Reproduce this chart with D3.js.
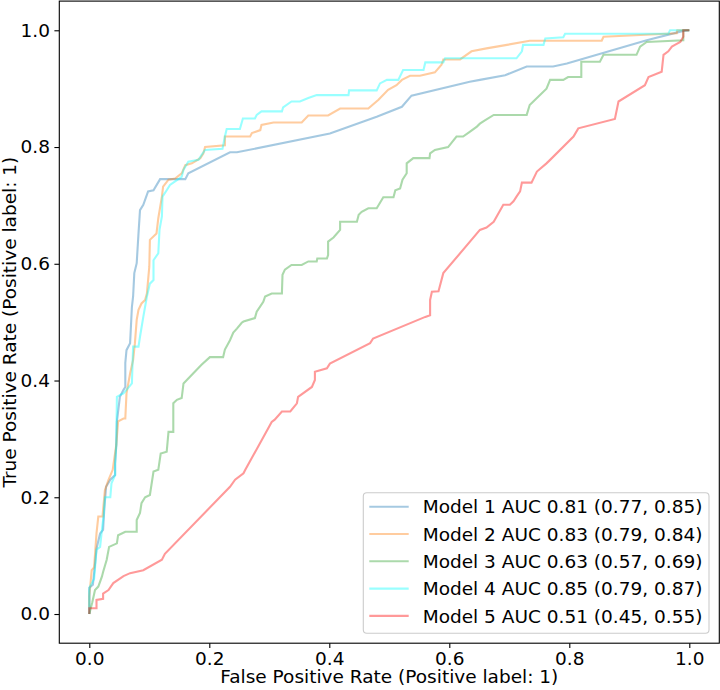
<!DOCTYPE html>
<html>
<head>
<meta charset="utf-8">
<script src="https://cdn.jsdelivr.net/npm/d3@7"></script>
<style>
  body { margin: 0; background: #fff; }
  svg { font-family: 'DejaVu Sans', sans-serif; }
</style>
</head>
<body>
<div id="chart"></div>
<script>
// ROC points [fpr, tpr]
const model1 = [[0,0],[0,0.045],[0.006,0.05],[0.01,0.09],[0.012,0.112],[0.018,0.138],[0.023,0.144],[0.025,0.18],[0.028,0.218],[0.035,0.23],[0.043,0.238],[0.043,0.258],[0.045,0.29],[0.046,0.33],[0.051,0.372],[0.057,0.384],[0.06,0.389],[0.06,0.43],[0.062,0.452],[0.068,0.464],[0.071,0.526],[0.073,0.544],[0.075,0.584],[0.079,0.601],[0.082,0.652],[0.0845,0.692],[0.09,0.701],[0.098,0.724],[0.107,0.726],[0.118,0.745],[0.16,0.745],[0.165,0.755],[0.2345,0.791],[0.246,0.791],[0.401,0.823],[0.479,0.852],[0.521,0.869],[0.537,0.888],[0.634,0.912],[0.651,0.915],[0.693,0.923],[0.729,0.938],[0.773,0.938],[0.796,0.943],[0.929,0.983],[0.99,0.999],[1,1]];

const model2 = [[0,0],[0,0.03],[0.004,0.075],[0.008,0.08],[0.012,0.138],[0.015,0.167],[0.022,0.167],[0.026,0.212],[0.032,0.23],[0.039,0.247],[0.045,0.29],[0.048,0.33],[0.057,0.335],[0.06,0.335],[0.062,0.378],[0.068,0.412],[0.073,0.435],[0.076,0.464],[0.079,0.504],[0.082,0.521],[0.087,0.532],[0.093,0.538],[0.096,0.549],[0.1,0.595],[0.101,0.641],[0.112,0.652],[0.115,0.678],[0.121,0.715],[0.123,0.732],[0.132,0.744],[0.143,0.746],[0.154,0.755],[0.16,0.769],[0.171,0.772],[0.185,0.781],[0.19,0.789],[0.193,0.8],[0.226,0.803],[0.226,0.818],[0.268,0.818],[0.271,0.824],[0.285,0.829],[0.287,0.838],[0.307,0.842],[0.354,0.842],[0.365,0.854],[0.398,0.854],[0.418,0.866],[0.465,0.866],[0.482,0.881],[0.498,0.898],[0.512,0.906],[0.521,0.915],[0.5345,0.922],[0.551,0.922],[0.576,0.928],[0.587,0.941],[0.59,0.95],[0.618,0.95],[0.637,0.964],[0.662,0.969],[0.696,0.975],[0.734,0.982],[0.854,0.982],[0.857,0.989],[0.979,0.995],[0.98,1],[1,1]];

const model3 = [[0,0],[0.005,0.02],[0.0095,0.041],[0.015,0.047],[0.021,0.064],[0.023,0.072],[0.029,0.093],[0.033,0.115],[0.046,0.121],[0.048,0.135],[0.06,0.141],[0.079,0.141],[0.079,0.161],[0.0845,0.173],[0.087,0.19],[0.093,0.2],[0.101,0.204],[0.107,0.244],[0.115,0.247],[0.119,0.275],[0.129,0.278],[0.132,0.312],[0.14,0.312],[0.14,0.361],[0.146,0.367],[0.154,0.37],[0.157,0.395],[0.171,0.41],[0.187,0.427],[0.201,0.44],[0.223,0.44],[0.226,0.453],[0.2345,0.469],[0.24,0.482],[0.246,0.489],[0.254,0.499],[0.257,0.501],[0.276,0.507],[0.279,0.518],[0.29,0.535],[0.293,0.544],[0.304,0.549],[0.321,0.549],[0.322,0.581],[0.326,0.59],[0.337,0.598],[0.354,0.598],[0.365,0.604],[0.379,0.604],[0.38,0.609],[0.396,0.609],[0.398,0.615],[0.398,0.638],[0.407,0.645],[0.418,0.658],[0.418,0.672],[0.446,0.672],[0.449,0.684],[0.454,0.689],[0.465,0.695],[0.479,0.695],[0.49,0.714],[0.507,0.714],[0.51,0.726],[0.518,0.729],[0.522,0.744],[0.529,0.755],[0.529,0.772],[0.54,0.781],[0.567,0.781],[0.568,0.789],[0.576,0.795],[0.598,0.8],[0.612,0.818],[0.623,0.818],[0.634,0.826],[0.646,0.835],[0.651,0.84],[0.66,0.846],[0.674,0.855],[0.729,0.855],[0.734,0.872],[0.74,0.878],[0.762,0.9],[0.768,0.915],[0.79,0.915],[0.798,0.92],[0.82,0.92],[0.82,0.946],[0.851,0.946],[0.857,0.958],[0.912,0.958],[0.918,0.972],[0.929,0.98],[0.99,0.983],[0.99,1],[1,1]];

const model4 = [[0,0],[0,0.04],[0.001,0.047],[0.008,0.06],[0.012,0.11],[0.018,0.115],[0.021,0.144],[0.024,0.17],[0.026,0.2],[0.035,0.2],[0.037,0.224],[0.043,0.238],[0.043,0.258],[0.045,0.29],[0.046,0.372],[0.051,0.375],[0.057,0.378],[0.062,0.384],[0.071,0.395],[0.073,0.458],[0.082,0.458],[0.0845,0.475],[0.09,0.509],[0.096,0.544],[0.101,0.566],[0.107,0.572],[0.107,0.606],[0.115,0.618],[0.117,0.658],[0.121,0.681],[0.122,0.715],[0.129,0.726],[0.1345,0.735],[0.143,0.741],[0.154,0.749],[0.157,0.761],[0.165,0.775],[0.182,0.778],[0.187,0.786],[0.193,0.795],[0.222,0.797],[0.226,0.818],[0.229,0.831],[0.251,0.831],[0.256,0.849],[0.276,0.849],[0.279,0.855],[0.287,0.861],[0.321,0.861],[0.323,0.868],[0.337,0.878],[0.351,0.878],[0.365,0.884],[0.379,0.889],[0.432,0.889],[0.433,0.897],[0.479,0.897],[0.4845,0.909],[0.496,0.915],[0.515,0.915],[0.523,0.932],[0.557,0.932],[0.56,0.945],[0.59,0.945],[0.593,0.952],[0.712,0.952],[0.721,0.964],[0.723,0.975],[0.757,0.975],[0.76,0.986],[0.79,0.988],[0.793,0.994],[0.965,0.994],[0.968,1],[1,1]];

const model5 = [[0,0],[0,0.01],[0.012,0.01],[0.012,0.024],[0.023,0.026],[0.023,0.035],[0.032,0.041],[0.04,0.053],[0.057,0.065],[0.068,0.07],[0.09,0.075],[0.121,0.093],[0.126,0.103],[0.2345,0.218],[0.243,0.23],[0.257,0.241],[0.26,0.247],[0.304,0.329],[0.309,0.333],[0.321,0.347],[0.335,0.347],[0.346,0.361],[0.348,0.372],[0.371,0.389],[0.376,0.401],[0.376,0.415],[0.396,0.421],[0.401,0.429],[0.468,0.464],[0.473,0.472],[0.56,0.509],[0.568,0.512],[0.568,0.538],[0.571,0.552],[0.582,0.553],[0.59,0.584],[0.651,0.658],[0.662,0.662],[0.674,0.672],[0.69,0.701],[0.701,0.701],[0.707,0.707],[0.712,0.715],[0.718,0.724],[0.721,0.739],[0.737,0.739],[0.746,0.758],[0.762,0.772],[0.768,0.778],[0.807,0.818],[0.815,0.832],[0.876,0.848],[0.882,0.878],[0.926,0.906],[0.932,0.92],[0.954,0.929],[0.957,0.958],[0.965,0.964],[0.971,0.972],[0.976,0.975],[0.985,0.98],[0.99,0.989],[0.99,1],[1,1]];

const labels = [
  'Model 1 AUC 0.81 (0.77, 0.85)',
  'Model 2 AUC 0.83 (0.79, 0.84)',
  'Model 3 AUC 0.63 (0.57, 0.69)',
  'Model 4 AUC 0.85 (0.79, 0.87)',
  'Model 5 AUC 0.51 (0.45, 0.55)'
];
const ticks = [0, 0.2, 0.4, 0.6, 0.8, 1.0];

const curves = [model1, model2, model3, model4, model5];
const colors = ['#1f77b4', '#ff7f0e', '#2ca02c', '#00ffff', '#ff0000'];
const ALPHA = 0.4;
const FONT = '18.5px';

const width = 720, height = 690;
const plot = { left: 59.3, right: 719.3, top: 1.1, bottom: 643.2 };

const svg = d3.select('#chart').append('svg')
  .attr('width', width)
  .attr('height', height);

const xScale = d3.scaleLinear().domain([-0.05, 1.05]).range([plot.left, plot.right]);
const yScale = d3.scaleLinear().domain([-0.05, 1.05]).range([plot.bottom, plot.top]);

// Axes
const xAxis = d3.axisBottom(xScale).tickValues(ticks).tickFormat(d3.format('.1f'))
  .tickSize(4.9).tickSizeOuter(0).tickPadding(3.5);
const yAxis = d3.axisLeft(yScale).tickValues(ticks).tickFormat(d3.format('.1f'))
  .tickSize(4.9).tickSizeOuter(0).tickPadding(4.5);

const gx = svg.append('g').attr('transform', `translate(0,${plot.bottom})`).call(xAxis);
const gy = svg.append('g').attr('transform', `translate(${plot.left},0)`).call(yAxis);
[gx, gy].forEach((g) => {
  g.select('.domain').remove();
  g.selectAll('line').attr('stroke', '#000').attr('stroke-width', 1.1);
  g.selectAll('text').attr('fill', '#000').style('font-size', FONT)
    .style('font-family', "'DejaVu Sans', sans-serif");
});

// Curves
const line = d3.line().x((d) => xScale(d[0])).y((d) => yScale(d[1]));
curves.forEach((pts, i) => {
  svg.append('path')
    .datum(pts)
    .attr('fill', 'none')
    .attr('stroke', colors[i])
    .attr('stroke-opacity', ALPHA)
    .attr('stroke-width', 2.1)
    .attr('d', line);
});

// Frame
svg.append('rect')
  .attr('x', plot.left).attr('y', plot.top)
  .attr('width', plot.right - plot.left).attr('height', plot.bottom - plot.top)
  .attr('fill', 'none').attr('stroke', '#000').attr('stroke-width', 1.1);

// Axis labels
svg.append('text')
  .attr('x', (plot.left + plot.right) / 2)
  .attr('y', 682.5)
  .attr('text-anchor', 'middle')
  .style('font-size', FONT)
  .text('False Positive Rate (Positive label: 1)');

svg.append('text')
  .attr('transform', `translate(16,${(plot.top + plot.bottom) / 2}) rotate(-90)`)
  .attr('text-anchor', 'middle')
  .style('font-size', FONT)
  .text('True Positive Rate (Positive label: 1)');

// Legend (lower right)
const legend = { x: 363.3, y: 492.7, w: 345.7, h: 140.6, rowTop: 506.7, rowStep: 27.3 };
svg.append('rect')
  .attr('x', legend.x).attr('y', legend.y)
  .attr('width', legend.w).attr('height', legend.h)
  .attr('rx', 3.5).attr('ry', 3.5)
  .attr('fill', '#fff').attr('fill-opacity', 0.8)
  .attr('stroke', '#cccccc').attr('stroke-width', 1.1);

const rows = svg.selectAll('.legend-row')
  .data(labels)
  .enter()
  .append('g')
  .attr('class', 'legend-row')
  .attr('transform', (d, i) => `translate(0,${legend.rowTop + i * legend.rowStep})`);

rows.append('line')
  .attr('x1', 369.3).attr('x2', 408.7)
  .attr('stroke', (d, i) => colors[i])
  .attr('stroke-opacity', ALPHA)
  .attr('stroke-width', 2.1);

rows.append('text')
  .attr('x', 422.7)
  .attr('dy', '0.36em')
  .style('font-size', FONT)
  .attr('fill', '#000')
  .text((d) => d);
</script>
</body>
</html>
